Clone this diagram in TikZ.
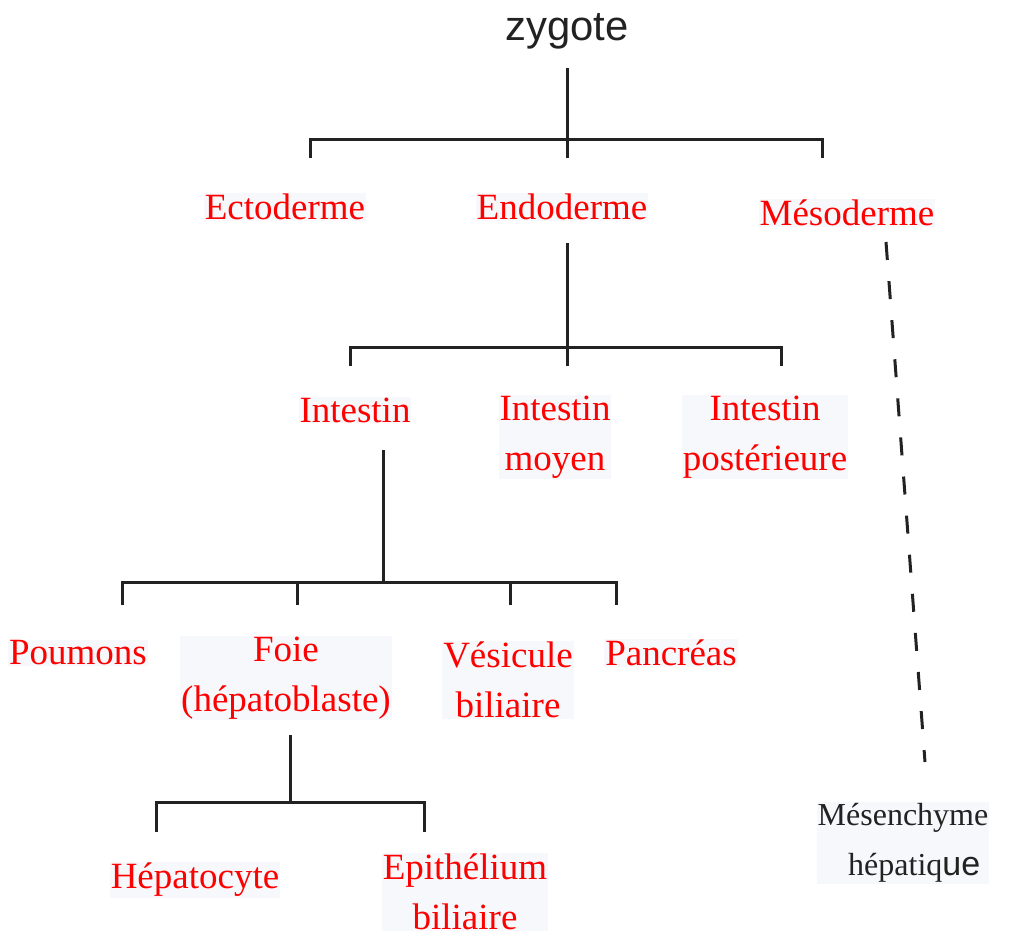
\documentclass[tikz,border=0pt]{standalone}
\usepackage{fontspec}
\setmainfont{Liberation Serif}
\setsansfont{Liberation Sans}
\usepackage{tikz}
\usetikzlibrary{positioning}
\definecolor{cellRed}{rgb}{1, 0, 0}
\definecolor{inkGray}{HTML}{222222}
\definecolor{boxTint}{HTML}{F7F8FB}
\tikzset{
	cell/.style={text=cellRed, fill=boxTint, inner sep=0.5pt, align=center, font=\fontsize{18.5}{25}\selectfont},
	branch/.style={draw=inkGray, line width=1.5pt},
}

\begin{document}
\begin{tikzpicture}[x=0.5pt, y=-0.5pt]
	\useasboundingbox (0, 0) rectangle (1019, 935);
	% cell lineages
	\node[text=inkGray, font=\sffamily\fontsize{20.9}{25}\selectfont] (zygote) at (567, 31) {zygote};
	\node[cell] (ecto) at (285, 207) {Ectoderme};
	\node[cell] (endo) at (562, 207) {Endoderme};
	\node[cell] (meso) at (847, 213) {Mésoderme};
	\node[cell] (ant) at (355, 410) {Intestin};
	\node[cell] (moy) at (555, 437) {Intestin\\moyen};
	\node[cell] (post) at (765, 437) {Intestin\\postérieure};
	\node[cell] (poum) at (78, 653) {Poumons};
	\node[cell] (foie) at (286, 678) {Foie\\(hépatoblaste)};
	\node[cell] (vesi) at (508, 680) {Vésicule\\biliaire};
	\node[cell] (panc) at (671, 653) {Pancréas};
	\node[cell] (hepa) at (195, 880) {Hépatocyte};
	\node[cell] (epit) at (465, 892) {Epithélium\\biliaire};
	\node[cell, text=inkGray, font=\fontsize{16}{25}\selectfont] (mesen) at (903, 843) {Mésenchyme\\\hspace*{0.7em}hépatiq{\sffamily\fontsize{17}{25}\selectfont ue}};

	% zygote -> germ layers
	\coordinate (z-top) at (567, 68);
	\coordinate (z-l) at (310, 158);
	\coordinate (z-m) at (567, 158);
	\coordinate (z-r) at (822, 158);
	\draw[branch] (z-top) -- (z-m);
	\draw[branch] (z-l) -- ++(0, -18) -| (z-r);

	% endoderme -> intestin
	\coordinate (e-top) at (567, 243);
	\coordinate (e-l) at (350, 366);
	\coordinate (e-m) at (567, 366);
	\coordinate (e-r) at (781, 366);
	\draw[branch] (e-top) -- (e-m);
	\draw[branch] (e-l) -- ++(0, -18) -| (e-r);

	% intestin -> organes
	\coordinate (i-top) at (383, 450);
	\coordinate (i-l) at (122, 605);
	\coordinate (i-f) at (297, 605);
	\coordinate (i-v) at (510, 605);
	\coordinate (i-r) at (616, 605);
	\draw[branch] (i-top) -- (383, 583);
	\draw[branch] (i-l) -- ++(0, -22) -| (i-r);
	\draw[branch] (i-f) -- ++(0, -22);
	\draw[branch] (i-v) -- ++(0, -22);

	% foie -> hepatocyte, epithelium
	\coordinate (f-top) at (290, 735);
	\coordinate (f-l) at (156, 832);
	\coordinate (f-r) at (424, 832);
	\draw[branch] (f-top) -- (290, 803);
	\draw[branch] (f-l) -- ++(0, -29) -| (f-r);

	% mesoderme -> mesenchyme
	\coordinate (m-top) at (886, 242);
	\coordinate (m-bot) at (925, 762);
	\draw[branch, dash pattern=on 9pt off 10.6pt] (m-top) -- (m-bot);
\end{tikzpicture}
\end{document}
